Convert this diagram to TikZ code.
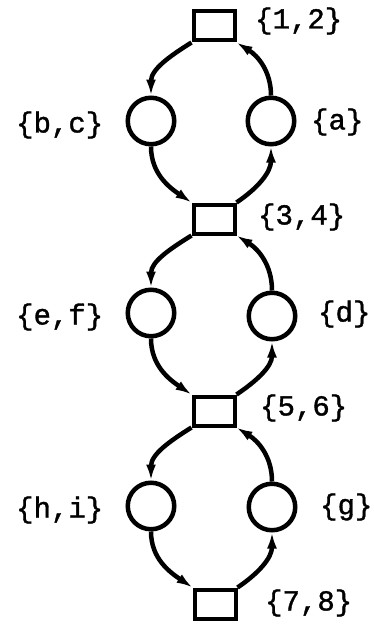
\documentclass[tikz,border=0pt]{standalone}
\usepackage{fontspec}
\setmainfont[FakeBold=1.2]{Liberation Mono}
\usetikzlibrary{arrows.meta}
\begin{document}
\begin{tikzpicture}[x=1pt,y=1pt,
  sq/.style={draw,rectangle,line width=4pt,minimum width=41pt,minimum height=29pt,inner sep=0pt},
  pl/.style={draw,circle,line width=4.5pt,minimum size=46.5pt,inner sep=0pt},
  lbl/.style={inner sep=0pt,font=\fontsize{29}{30}\selectfont},
  arc/.style={line width=4.5pt,-{Latex[length=16pt,width=10pt]}}]
\useasboundingbox (0,0) rectangle (373,-626);
% squares
\node[sq] (S1) at (214,-26) {};
\node[sq] (S2) at (214,-219) {};
\node[sq] (S3) at (214,-411) {};
\node[sq] (S4) at (215,-604) {};
% circles
\node[pl] (L1) at (151,-121) {};
\node[pl] (R1) at (271,-121) {};
\node[pl] (L2) at (151,-313) {};
\node[pl] (R2) at (272,-316) {};
\node[pl] (L3) at (151,-506) {};
\node[pl] (R3) at (272,-507) {};
% labels
\node[lbl,anchor=west] (t12) at (255,-21) {\{1,2\}};
\node[lbl,anchor=west] (ta) at (311,-122) {\{a\}};
\node[lbl,anchor=west] (tbc) at (16,-125) {\{b,c\}};
\node[lbl,anchor=west] (t34) at (258,-217) {\{3,4\}};
\node[lbl,anchor=west] (td) at (318,-314) {\{d\}};
\node[lbl,anchor=west] (tef) at (16,-317) {\{e,f\}};
\node[lbl,anchor=west] (t56) at (260,-408) {\{5,6\}};
\node[lbl,anchor=west] (tg) at (320,-507) {\{g\}};
\node[lbl,anchor=west] (thi) at (16,-510) {\{h,i\}};
\node[lbl,anchor=west] (t78) at (265,-603) {\{7,8\}};
% connectors
\foreach \a/\l/\r/\b in {S1/L1/R1/S2, S2/L2/R2/S3, S3/L3/R3/S4}{
  \draw[arc] (\a.south west) to[out=212,in=90] (\l.north);
  \draw[arc] (\l.south) to[out=-90,in=146] (\b.north west);
  \draw[arc] (\b.north east) to[out=34,in=-90] (\r.south);
  \draw[arc] (\r.north) to[out=90,in=-32] (\a.south east);
}
\end{tikzpicture}
\end{document}
